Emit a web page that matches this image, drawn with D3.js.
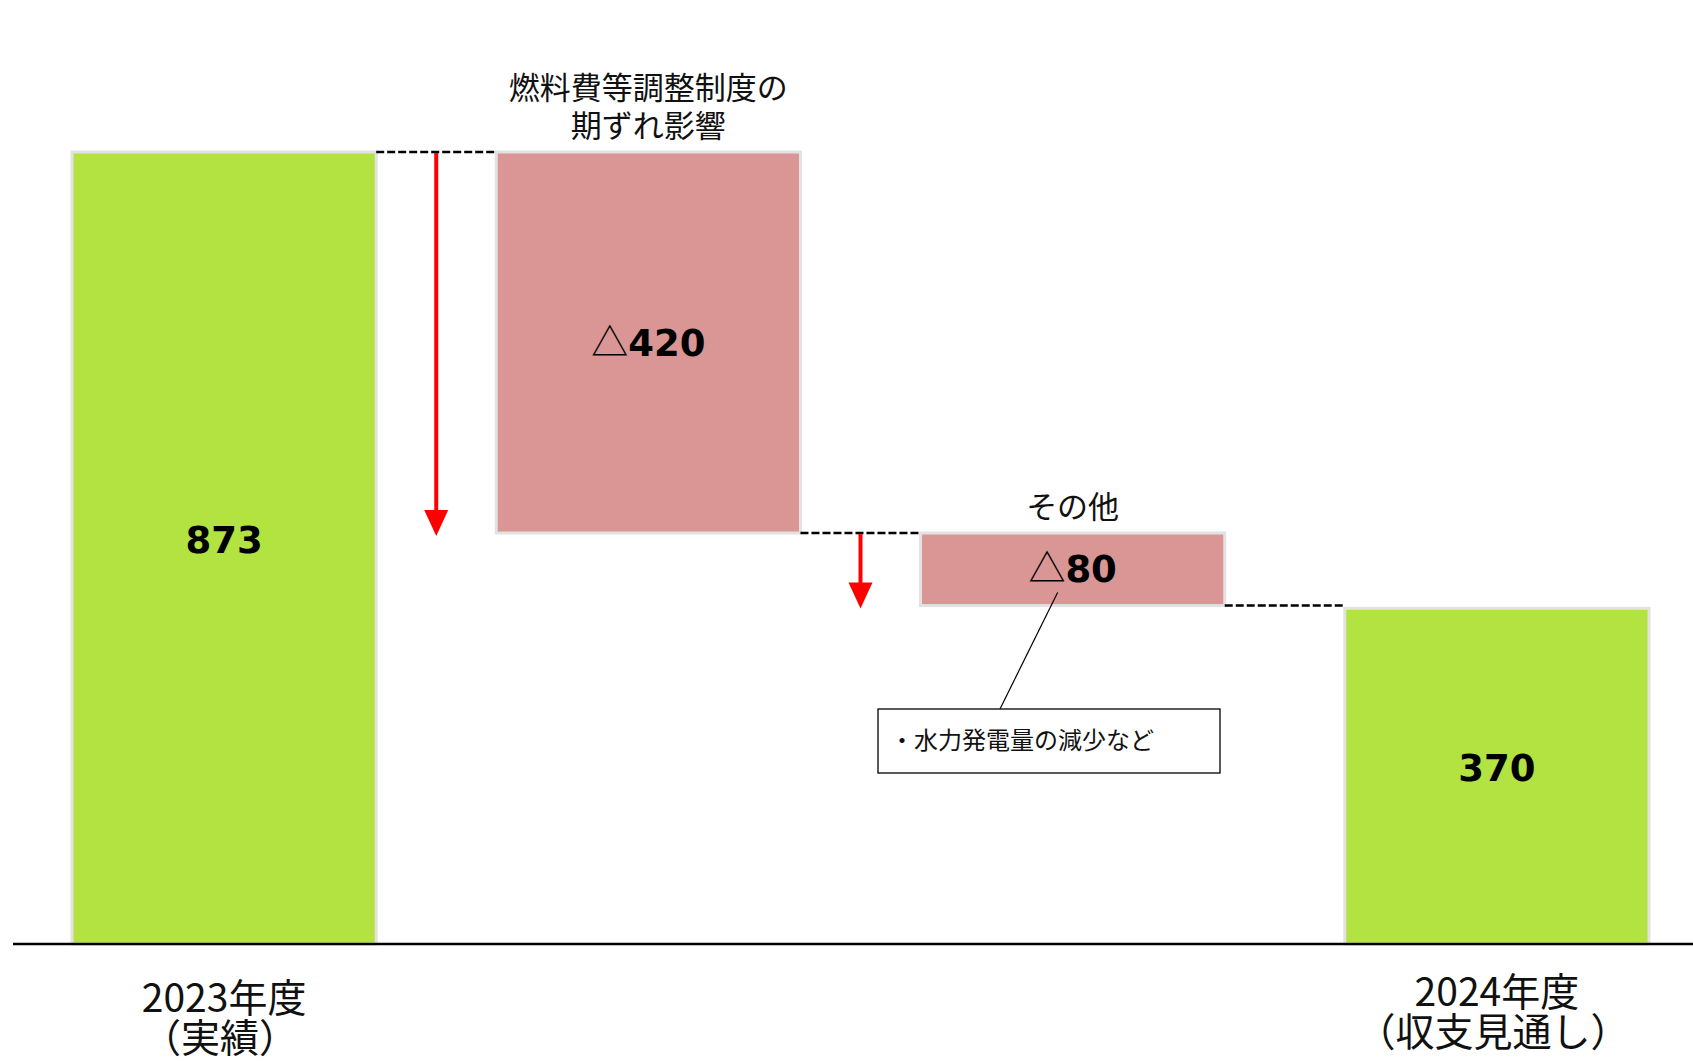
<!DOCTYPE html>
<html>
<head>
<meta charset="utf-8">
<script src="https://cdn.jsdelivr.net/npm/d3@7"></script>
<style>
  body { margin: 0; background: #fff; }
  text { font-family: "Noto Sans CJK JP", sans-serif; }
</style>
</head>
<body>
<div id="chart-area"></div>
<script>
// waterfall values (億円)
const categories = ["2023年度", "燃料費等調整制度の期ずれ影響", "その他", "2024年度"]
const values = [873, -420, -80, 370]
const kinds = ["total", "delta", "delta", "total"]
const valueLabels = ["873", "420", "80", "370"]
const topLabels = [null, ["燃料費等調整制度の", "期ずれ影響"], ["その他"], null]
const bottomLabels = [["2023年度", "（実績）"], null, null, ["2024年度", "（収支見通し）"]]
const noteText = "・水力発電量の減少など"

const WIDTH = 1693
const HEIGHT = 1061
const BASE = 944

const svg = d3.select("#chart-area").append("svg")
  .attr("width", WIDTH)
  .attr("height", HEIGHT)

const x = d3.scaleBand()
  .domain(categories)
  .range([72, 1649])
  .paddingInner(0.283)
  .paddingOuter(0)

const y = d3.scaleLinear()
  .domain([0, 873])
  .range([BASE, 152])

// build start / end of every step
let running = 0
const steps = categories.map((c, i) => {
  let start, end
  if (kinds[i] === "total") {
    start = 0
    end = values[i]
    running = values[i]
  } else {
    start = running
    end = running + values[i]
    running = end
  }
  return {cat: c, start, end, kind: kinds[i], label: valueLabels[i], i}
})

// bars
svg.selectAll("rect.bar")
  .data(steps)
  .enter().append("rect")
  .attr("class", "bar")
  .attr("x", d => x(d.cat))
  .attr("width", x.bandwidth())
  .attr("y", d => y(Math.max(d.start, d.end)))
  .attr("height", d => Math.abs(y(d.start) - y(d.end)))
  .attr("fill", d => d.kind === "total" ? "#b2e340" : "#da9694")
  .attr("stroke", "#e2e2e2")
  .attr("stroke-width", 3)

// baseline
svg.append("line")
  .attr("x1", 13).attr("x2", WIDTH)
  .attr("y1", BASE).attr("y2", BASE)
  .attr("stroke", "#000")
  .attr("stroke-width", 2.5)

// dashed connectors and red arrows between steps
for (let i = 0; i < steps.length - 1; i++) {
  const cur = steps[i], nxt = steps[i + 1]
  const level = cur.end
  const x1 = x(cur.cat) + x.bandwidth()
  const x2 = x(nxt.cat)
  svg.append("line")
    .attr("x1", x1).attr("x2", x2)
    .attr("y1", y(level)).attr("y2", y(level))
    .attr("stroke", "#000")
    .attr("stroke-width", 2.5)
    .attr("stroke-dasharray", "8,3")

  if (nxt.kind === "delta") {
    const ax = (x1 + x2) / 2
    const y0 = y(nxt.start) + 1
    const tip = y(nxt.end) + 3
    svg.append("line")
      .attr("x1", ax).attr("x2", ax)
      .attr("y1", y0).attr("y2", tip - 20)
      .attr("stroke", "red")
      .attr("stroke-width", 4)
    svg.append("path")
      .attr("d", `M${ax - 12},${tip - 26} L${ax + 12},${tip - 26} L${ax},${tip} Z`)
      .attr("fill", "red")
  }
}

// value labels in bars
steps.forEach(d => {
  const cx = x(d.cat) + x.bandwidth() / 2
  const cy = (y(d.start) + y(d.end)) / 2 + (d.kind === "total" ? -8 : 0)
  const t = svg.append("text")
    .attr("x", cx)
    .attr("y", cy + 13)
    .attr("text-anchor", "middle")
    .attr("font-size", "37px")
  if (d.kind === "delta") {
    t.append("tspan")
      .style("font-family", "'Noto Sans CJK JP', sans-serif")
      .attr("font-weight", "normal")
      .text("△")
  }
  t.append("tspan")
    .style("font-family", "'DejaVu Sans', Verdana, sans-serif")
    .attr("font-weight", "bold")
    .text(d.label)
})

// labels above delta bars
steps.forEach(d => {
  const lines = topLabels[d.i]
  if (!lines) return
  const cx = x(d.cat) + x.bandwidth() / 2
  const top = y(Math.max(d.start, d.end))
  lines.forEach((s, j) => {
    svg.append("text")
      .attr("x", cx)
      .attr("y", top - 15 - (lines.length - 1 - j) * 38)
      .attr("text-anchor", "middle")
      .attr("font-size", "31px")
      .attr("fill", "#111")
      .text(s)
  })
})

// category labels under totals
steps.forEach(d => {
  const lines = bottomLabels[d.i]
  if (!lines) return
  const cx = x(d.cat) + x.bandwidth() / 2
  const off = d.i === 0 ? 0 : -6
  lines.forEach((s, j) => {
    svg.append("text")
      .attr("x", cx + (j === 1 ? -4 : 0))
      .attr("y", 1012 + off + j * 40)
      .attr("text-anchor", "middle")
      .attr("font-size", "39px")
      .attr("fill", "#111")
      .text(s)
  })
})

// note box with leader line
const other = steps[2]
const noteX = 878, noteY = 709, noteW = 342, noteH = 64
svg.append("line")
  .attr("x1", x(other.cat) + x.bandwidth() / 2 - 15)
  .attr("y1", y(other.end) - 13)
  .attr("x2", 1000)
  .attr("y2", noteY)
  .attr("stroke", "#000")
  .attr("stroke-width", 1.2)
svg.append("rect")
  .attr("x", noteX).attr("y", noteY)
  .attr("width", noteW).attr("height", noteH)
  .attr("fill", "#fff")
  .attr("stroke", "#000")
  .attr("stroke-width", 1.3)
svg.append("text")
  .attr("x", noteX + 12)
  .attr("y", noteY + 40)
  .attr("font-size", "24px")
  .attr("fill", "#111")
  .text(noteText)
</script>
</body>
</html>
